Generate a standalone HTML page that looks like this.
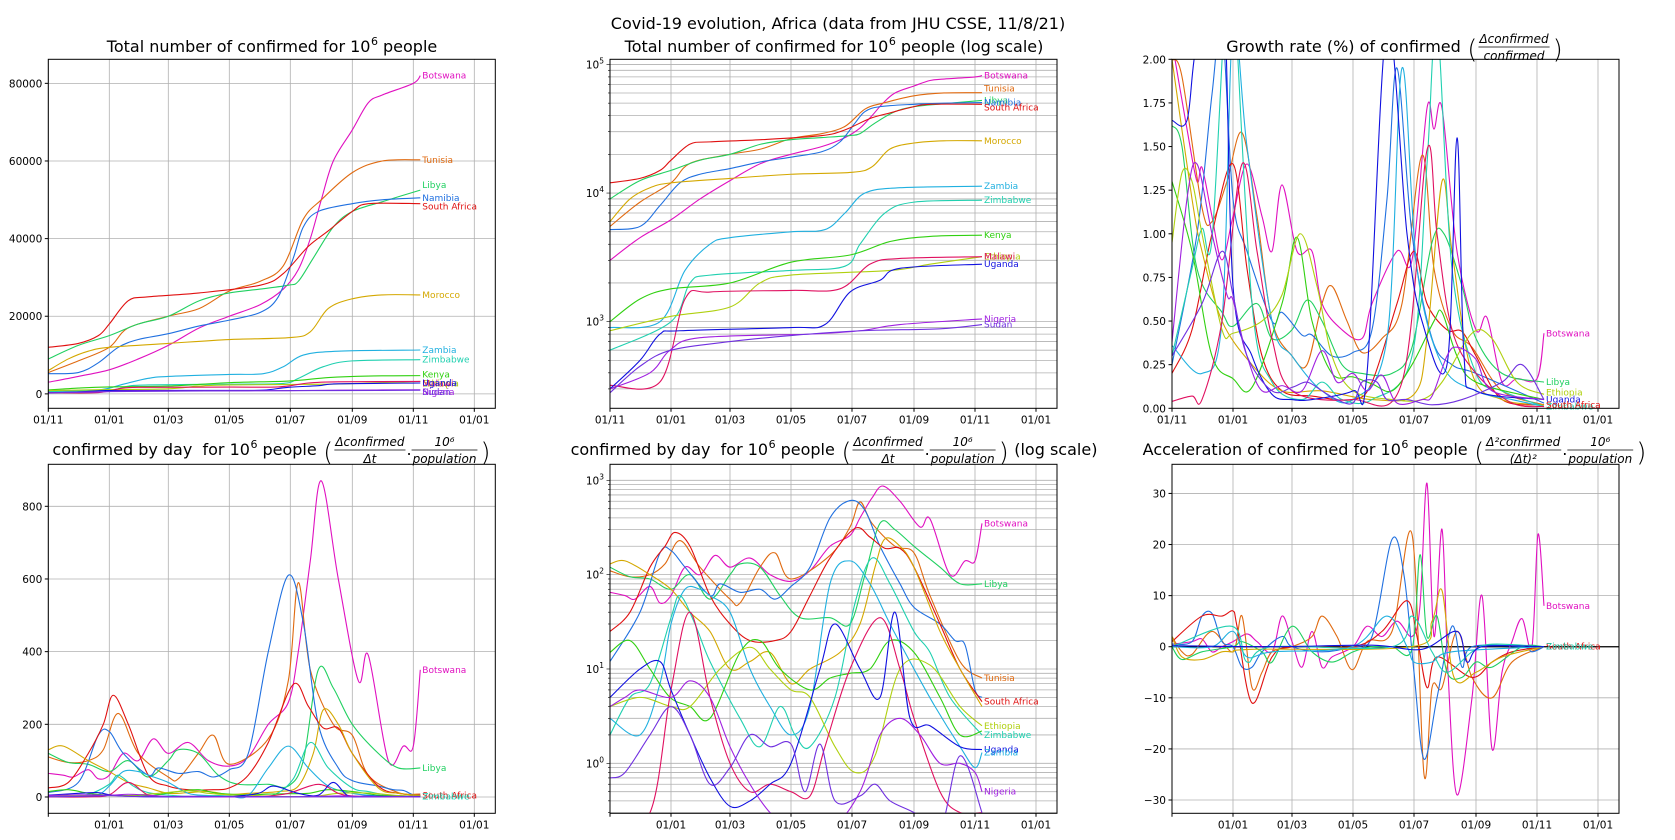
<!DOCTYPE html>
<html><head><meta charset="utf-8">
<style>
html,body{margin:0;padding:0;background:#fff;}
svg{display:block;font-family:"DejaVu Sans","Liberation Sans",sans-serif;}
text{white-space:pre;}
</style></head>
<body>
<svg id="fig" width="1675" height="840" viewBox="0 0 1675 840" xmlns="http://www.w3.org/2000/svg">
<rect x="0" y="0" width="1675" height="840" fill="#fff"/>
<text x="838" y="29" font-size="16" text-anchor="middle">Covid-19 evolution, Africa (data from JHU CSSE, 11/8/21)</text>
</svg>
<script>
// ---------- data (day 0 = 01/11/2020) ----------
const countries = ["Botswana","Tunisia","Libya","Namibia","South Africa","Morocco","Zambia","Zimbabwe","Kenya","Ethiopia","Malawi","Uganda","Nigeria","Sudan"];
const colors = {"Botswana":"#e010c0","Tunisia":"#e06a10","Libya":"#20d060","Namibia":"#2070e0","South Africa":"#e01010","Morocco":"#d4a800","Zambia":"#20b0e0","Zimbabwe":"#20d0b0","Kenya":"#30d010","Ethiopia":"#b0d010","Malawi":"#e01060","Uganda":"#1010e0","Nigeria":"#a020e0","Sudan":"#7030e0"};
const xTickDays = [0,61,120,181,242,304,365,426];
const xTickLabels = ["01/11","01/01","01/03","01/05","01/07","01/09","01/11","01/01"];

// total confirmed per 1e6 (thousands)
const totalBotswana = [[0,3],[30,4.5],[61,6.2],[90,9],[120,12.5],[151,17],[181,20],[212,23],[235,27],[250,32],[262,40],[273,50],[285,60],[304,68],[320,75],[334,77],[365,80],[372,82]];
const totalTunisia = [[0,5.5],[30,8.5],[61,12],[80,17],[120,20],[151,22],[181,26.5],[212,29],[235,33],[255,45],[273,50],[304,57],[334,60],[372,60.3]];
const totalLibya = [[0,9],[30,12.5],[61,15],[90,18],[120,20],[151,24],[181,26],[212,27],[240,28],[250,29],[265,35],[285,43],[304,47],[334,49.5],[372,52.5]];
const totalNamibia = [[0,5.2],[30,5.5],[50,8],[70,12],[90,14],[120,15.5],[151,17.5],[181,19],[212,21],[230,25],[245,35],[255,43],[270,47],[304,49],[334,50],[372,50.5]];
const totalSouthAfrica = [[0,12],[30,13],[50,15],[61,18],[80,24],[100,25],[151,26],[212,28],[235,31],[260,38],[280,42],[304,47],[320,49],[372,49]];
const totalMorocco = [[0,6],[20,9],[40,11],[61,12],[120,13],[181,14],[242,14.5],[262,16],[280,22],[304,24.5],[334,25.5],[372,25.5]];
const totalZambia = [[0,0.9],[50,1],[75,2.5],[100,4],[120,4.5],[181,5],[215,5.2],[235,7],[255,10],[290,11],[372,11.3]];
const totalZimbabwe = [[0,0.6],[61,1],[80,2],[100,2.3],[181,2.5],[235,2.7],[250,4],[275,7],[304,8.5],[372,8.8]];
const totalKenya = [[0,1],[30,1.5],[61,1.8],[120,2],[181,2.9],[240,3.3],[280,4.2],[320,4.6],[372,4.7]];
const totalEthiopia = [[0,0.85],[61,1.1],[120,1.3],[150,2],[180,2.3],[280,2.5],[320,2.8],[372,3.2]];
const totalMalawi = [[0,0.32],[50,0.34],[75,1.5],[100,1.7],[181,1.75],[230,1.8],[260,2.8],[290,3.1],[372,3.2]];
const totalUganda = [[0,0.3],[30,0.5],[50,0.8],[70,0.85],[181,0.9],[215,0.95],[240,1.7],[270,2.1],[290,2.6],[372,2.8]];
const totalNigeria = [[0,0.3],[40,0.4],[60,0.6],[90,0.75],[200,0.8],[250,0.85],[290,0.95],[372,1.05]];
const totalSudan = [[0,0.28],[30,0.45],[61,0.6],[120,0.7],[181,0.78],[250,0.85],[330,0.88],[372,0.95]];

// daily confirmed per 1e6
const dailyBotswana = [[0,65],[15,60],[25,55],[40,75],[50,50],[61,60],[75,120],[90,100],[105,160],[120,120],[140,150],[160,100],[181,85],[200,110],[220,200],[240,260],[250,400],[262,650],[273,870],[290,600],[310,320],[320,390],[340,100],[355,140],[365,140],[372,350]];
const dailyTunisia = [[0,110],[20,95],[40,100],[55,130],[70,230],[90,120],[120,55],[130,50],[150,120],[165,170],[181,90],[220,160],[240,320],[250,590],[262,350],[285,200],[304,170],[320,60],[350,12],[372,8]];
const dailyLibya = [[0,120],[20,95],[40,90],[61,70],[80,100],[100,55],[120,100],[130,130],[150,120],[170,60],[190,35],[220,35],[240,30],[255,100],[270,350],[285,300],[304,200],[330,120],[350,80],[372,80]];
const dailyNamibia = [[0,12],[30,40],[50,170],[61,180],[75,120],[100,60],[110,80],[130,65],[150,70],[165,55],[181,75],[200,120],[220,400],[240,610],[255,480],[270,200],[290,80],[304,45],[330,30],[345,20],[355,18],[365,6],[372,5]];
const dailySouthAfrica = [[0,25],[20,40],[40,120],[55,200],[65,280],[80,200],[100,60],[120,30],[140,20],[165,20],[181,25],[200,60],[220,150],[245,310],[260,250],[275,190],[290,190],[304,120],[330,30],[350,10],[372,4.5]];
const dailyMorocco = [[0,130],[15,140],[40,100],[61,70],[80,40],[100,25],[120,10],[140,12],[160,15],[181,7],[200,10],[230,15],[250,30],[265,120],[275,240],[290,200],[304,120],[330,25],[350,10],[372,4]];
const dailyZambia = [[0,3],[30,2],[50,7],[61,30],[75,70],[90,70],[100,60],[120,40],[140,10],[160,4],[181,2],[200,4],[220,80],[240,140],[260,80],[280,30],[304,10],[325,4],[350,1.5],[365,0.9],[372,1.3]];
const dailyZimbabwe = [[0,2],[20,5],[40,7],[61,35],[70,60],[85,30],[100,12],[130,3],[150,1.5],[170,4],[185,2],[200,1.5],[225,5],[245,50],[262,150],[280,80],[304,25],[320,15],[340,5],[372,2]];
const dailyKenya = [[0,15],[20,20],[40,10],[60,5],[80,4],[100,3],[130,15],[150,20],[170,10],[200,6],[220,8],[240,9],[260,10],[280,20],[304,15],[330,5],[350,2],[372,2.2]];
const dailyEthiopia = [[0,4],[30,5],[61,4],[80,4],[110,10],[140,17],[160,10],[181,6],[200,5],[225,1.5],[245,0.8],[265,1.2],[290,10],[320,11],[350,4],[372,2.5]];
const dailyMalawi = [[0,0.2],[40,0.3],[61,6],[80,40],[100,5],[120,1],[140,0.5],[160,0.6],[181,0.5],[200,0.45],[215,1.5],[240,10],[270,35],[290,10],[304,3],[330,0.5],[350,0.3],[372,0.3]];
const dailyUganda = [[0,5],[30,10],[50,12],[61,6],[80,2],[100,0.7],[120,0.35],[140,0.4],[160,0.6],[181,1],[210,10],[225,30],[250,10],[270,5],[285,40],[300,3],[320,2.5],[350,1.5],[372,1.4]];
const dailyNigeria = [[0,4],[15,5],[30,6],[61,5],[80,7.5],[100,5],[120,1.5],[140,0.6],[160,0.3],[181,0.2],[220,0.2],[250,0.5],[270,2],[290,3],[310,2],[330,1],[350,1],[365,0.8],[372,0.5]];
const dailySudan = [[0,0.7],[15,0.8],[40,2],[61,4],[80,2],[100,0.6],[120,0.9],[140,2],[160,1.5],[181,1.6],[195,0.5],[210,1.6],[225,0.4],[250,0.45],[265,0.6],[280,0.4],[304,0.3],[330,0.2],[350,1.2],[372,0.3]];

// growth rate (%)
const growthBotswana = [[0,2.1],[15,1.6],[25,1.3],[30,1.38],[40,1.1],[50,0.85],[61,1.1],[75,1.4],[90,1.1],[100,0.9],[110,1.28],[125,0.9],[140,0.9],[150,0.6],[170,0.45],[190,0.4],[200,0.6],[225,0.9],[240,0.85],[255,1.72],[262,1.6],[270,1.72],[285,0.9],[304,0.45],[315,0.52],[330,0.15],[345,0.17],[365,0.17],[372,0.43]];
const growthTunisia = [[0,2],[10,1.9],[30,1.15],[40,1.07],[55,1.3],[70,1.58],[85,1.1],[100,0.5],[120,0.3],[135,0.25],[150,0.6],[160,0.7],[175,0.5],[190,0.32],[210,0.4],[230,0.6],[250,1.45],[262,0.8],[280,0.45],[300,0.35],[330,0.1],[372,0.02]];
const growthLibya = [[0,1.62],[10,1.5],[25,0.8],[50,0.55],[61,0.47],[85,0.6],[100,0.4],[120,0.45],[135,0.62],[150,0.5],[170,0.25],[190,0.2],[220,0.2],[240,0.35],[260,0.95],[272,1.0],[290,0.7],[304,0.4],[330,0.2],[372,0.15]];
const growthNamibia = [[0,0.25],[25,1.0],[40,1.8],[50,2.2],[61,1.2],[75,0.9],[100,0.5],[110,0.55],[130,0.42],[140,0.42],[160,0.3],[181,0.32],[200,0.45],[215,1.2],[225,1.95],[240,1.0],[260,0.4],[280,0.25],[304,0.2],[372,0.03]];
const growthSouthAfrica = [[0,0.2],[20,0.45],[40,1.0],[61,1.4],[75,0.8],[90,0.3],[110,0.1],[140,0.07],[181,0.05],[200,0.15],[225,0.6],[242,0.9],[255,0.6],[275,0.45],[290,0.44],[304,0.3],[330,0.05],[372,0.02]];
const growthMorocco = [[0,2],[20,1.2],[30,0.9],[50,0.5],[80,0.25],[110,0.1],[150,0.1],[200,0.05],[242,0.08],[255,0.4],[270,1.3],[280,0.9],[300,0.2],[330,0.05],[372,0.02]];
const growthZambia = [[0,0.36],[30,0.2],[50,0.5],[61,2.2],[75,1.5],[100,0.5],[120,0.3],[150,0.1],[181,0.05],[215,0.4],[230,1.95],[245,0.8],[270,0.25],[304,0.1],[340,0.05],[372,0.01]];
const growthZimbabwe = [[0,0.3],[20,0.8],[30,1.03],[40,0.97],[55,2.5],[61,2.5],[80,0.6],[100,0.15],[130,0.05],[150,0.15],[170,0.05],[200,0.05],[240,0.3],[255,1.4],[265,2.2],[280,0.8],[304,0.2],[330,0.1],[372,0.01]];
const growthKenya = [[0,1.3],[20,0.9],[40,0.3],[61,0.17],[80,0.12],[110,0.6],[125,0.98],[140,0.5],[160,0.2],[181,0.18],[200,0.14],[220,0.1],[240,0.25],[262,0.5],[270,0.55],[285,0.3],[304,0.15],[372,0.05]];
const growthEthiopia = [[0,0.95],[10,1.35],[20,1.3],[30,1.0],[50,0.45],[61,0.43],[90,0.5],[110,0.65],[128,1.0],[145,0.7],[160,0.3],[181,0.1],[220,0.05],[250,0.05],[270,0.15],[300,0.43],[320,0.4],[345,0.15],[372,0.08]];
const growthMalawi = [[0,0.04],[20,0.07],[30,0.05],[50,0.5],[70,1.4],[85,0.9],[100,0.4],[120,0.1],[180,0.05],[230,0.15],[255,1.48],[265,1.0],[280,0.45],[304,0.2],[340,0.03],[372,0.01]];
const growthUganda = [[0,1.65],[15,1.65],[25,2.1],[50,2.5],[61,0.7],[80,0.3],[100,0.08],[120,0.05],[140,0.05],[181,0.1],[195,0.2],[215,2.2],[235,1.0],[250,0.5],[275,0.25],[285,1.55],[292,0.3],[304,0.1],[372,0.05]];
const growthNigeria = [[0,0.38],[15,1.2],[25,1.4],[40,1.0],[55,0.65],[61,0.62],[75,0.3],[90,0.1],[110,0.13],[130,0.1],[150,0.33],[165,0.15],[181,0.2],[195,0.1],[210,0.19],[225,0.03],[250,0.05],[260,0.07],[275,0.3],[285,0.35],[304,0.28],[320,0.1],[372,0.05]];
const growthSudan = [[0,0.3],[30,0.6],[50,0.9],[61,0.65],[75,0.3],[100,0.1],[120,0.12],[135,0.15],[150,0.1],[165,0.05],[181,0.03],[190,0.15],[205,0.15],[215,0.05],[235,0.05],[260,0.02],[290,0.05],[330,0.15],[350,0.25],[372,0.05]];

// acceleration
const accelBotswana = [[0,0.5],[20,1],[30,1.5],[40,-1],[50,0],[61,1],[75,2.5],[85,1],[100,-1],[110,6],[120,1],[130,-4],[140,3],[150,-4],[160,-2],[181,0],[195,4],[210,2],[225,5],[240,2],[248,8],[255,32],[262,2],[270,23],[276,-5],[285,-29],[300,-10],[310,10],[320,-20],[330,-5],[340,1],[350,5.5],[360,0],[366,22],[372,8]];
const accelTunisia = [[0,2],[10,-1],[20,-1.5],[40,3],[61,-1],[70,6],[80,-8],[90,-5],[100,-1],[120,0],[140,2],[150,6],[165,2],[180,-4.5],[195,1],[220,3],[240,22],[252,-25],[260,-8],[270,-8],[285,3],[300,-6],[320,-10],[340,-3],[372,0]];
const accelNamibia = [[0,0.5],[20,1],[30,6],[40,6.5],[50,1],[61,0],[70,-4],[80,-4],[90,-1],[110,2],[120,0],[150,-1],[180,0],[200,2],[220,21],[232,14],[242,-5],[252,-22],[265,-10],[280,4],[290,-4],[300,0],[350,0],[360,-1],[372,0]];
const accelSouthAfrica = [[0,1],[30,6],[50,6],[61,7],[65,4],[80,-11],[100,-2],[120,0],[181,0],[210,3],[235,9],[245,2],[255,-8],[265,-2],[300,-6],[320,-3],[340,-1],[372,0]];
const accelLibya = [[0,0],[10,-2.5],[30,-1],[61,0],[70,1],[90,-1],[100,-3],[120,4],[140,-1],[160,-3],[181,-1],[200,0],[220,0],[240,-0.5],[248,18],[255,2],[265,6],[275,-5],[290,-6],[304,-3],[320,-4],[350,0],[372,0]];
const accelMorocco = [[0,2],[10,-2],[30,-2.5],[50,-1],[61,-1],[80,-0.5],[240,0],[260,5],[270,11],[282,-6],[304,-5],[330,-2],[372,0]];
const accelZambia = [[0,0],[40,0],[61,3],[75,-2],[100,-1],[180,0],[215,6],[235,0],[242,-3],[260,-3],[280,-1],[372,0]];
const accelZimbabwe = [[0,0],[60,4],[75,-3],[100,0],[220,0],[240,6],[260,-1],[275,-5],[300,-1],[320,0.5],[372,0]];
const accelUganda = [[0,0.2],[100,0],[200,0.3],[250,-0.5],[285,3],[295,-3],[310,0],[372,0]];

const totals = {"Botswana":totalBotswana,"Tunisia":totalTunisia,"Libya":totalLibya,"Namibia":totalNamibia,"South Africa":totalSouthAfrica,"Morocco":totalMorocco,"Zambia":totalZambia,"Zimbabwe":totalZimbabwe,"Kenya":totalKenya,"Ethiopia":totalEthiopia,"Malawi":totalMalawi,"Uganda":totalUganda,"Nigeria":totalNigeria,"Sudan":totalSudan};
const daily = {"Botswana":dailyBotswana,"Tunisia":dailyTunisia,"Libya":dailyLibya,"Namibia":dailyNamibia,"South Africa":dailySouthAfrica,"Morocco":dailyMorocco,"Zambia":dailyZambia,"Zimbabwe":dailyZimbabwe,"Kenya":dailyKenya,"Ethiopia":dailyEthiopia,"Malawi":dailyMalawi,"Uganda":dailyUganda,"Nigeria":dailyNigeria,"Sudan":dailySudan};
const growth = {"Botswana":growthBotswana,"Tunisia":growthTunisia,"Libya":growthLibya,"Namibia":growthNamibia,"South Africa":growthSouthAfrica,"Morocco":growthMorocco,"Zambia":growthZambia,"Zimbabwe":growthZimbabwe,"Kenya":growthKenya,"Ethiopia":growthEthiopia,"Malawi":growthMalawi,"Uganda":growthUganda,"Nigeria":growthNigeria,"Sudan":growthSudan};
const accel = {"Botswana":accelBotswana,"Tunisia":accelTunisia,"Namibia":accelNamibia,"South Africa":accelSouthAfrica,"Libya":accelLibya,"Morocco":accelMorocco,"Zambia":accelZambia,"Zimbabwe":accelZimbabwe,"Uganda":accelUganda};

const NS = "http://www.w3.org/2000/svg";
const svg = document.getElementById('fig');
function mk(tag, attrs, parent){ const e=document.createElementNS(NS,tag); for(const k in attrs) e.setAttribute(k,attrs[k]); (parent||svg).appendChild(e); return e; }

function smoothPath(pts){
  if(pts.length<2) return '';
  let d='M'+pts[0][0].toFixed(2)+','+pts[0][1].toFixed(2);
  for(let i=0;i<pts.length-1;i++){
    const p0=pts[i-1]||pts[i], p1=pts[i], p2=pts[i+1], p3=pts[i+2]||p2;
    const c1=[p1[0]+(p2[0]-p0[0])/6, p1[1]+(p2[1]-p0[1])/6];
    const c2=[p2[0]-(p3[0]-p1[0])/6, p2[1]-(p3[1]-p1[1])/6];
    d+='C'+c1[0].toFixed(2)+','+c1[1].toFixed(2)+' '+c2[0].toFixed(2)+','+c2[1].toFixed(2)+' '+p2[0].toFixed(2)+','+p2[1].toFixed(2);
  }
  return d;
}

let clipId=0;
function panel(o){
  const g=mk('g',{});
  
  
  const L=o.left,R=o.left+447,T=o.top,B=o.top+349;
  const sc=o.scale||1;
  const x0=o.xmin;
  const X=d=>L+(d-x0)*1.0;
  let Y;
  if(o.log){ Y=v=>{const lv=Math.log10(Math.max(v,1e-6)); return B-(lv-o.ymin)/(o.ymax-o.ymin)*(B-T);} }
  else { Y=v=>B-(v-o.ymin)/(o.ymax-o.ymin)*(B-T); }
  const cid='clip'+(clipId++);
  const cp=mk('clipPath',{id:cid},g); mk('rect',{x:L,y:T,width:R-L,height:B-T},cp);
  const grid=mk('g',{stroke:'#b0b0b0','stroke-width':0.8},g);
  
  
  xTickDays.forEach((d,i)=>{
    const x=X(d); if(x<L-0.5||x>R+0.5) return;
    mk('line',{x1:x,x2:x,y1:T,y2:B},grid);
    mk('line',{x1:x,x2:x,y1:B,y2:B+3.5,stroke:'#000'},g);
    if(o.skipFirstX && i===0) return;
    const t=mk('text',{x:x,y:B+15,'font-size':10.5,'text-anchor':'middle'},g); t.textContent=xTickLabels[i];
    
    
  });
  if(o.log){
    for(let e=Math.floor(o.ymin); e<=Math.ceil(o.ymax); e++){
      for(let m=1;m<10;m++){
        const lv=e+Math.log10(m); if(lv<o.ymin||lv>o.ymax) continue;
        const y=B-(lv-o.ymin)/(o.ymax-o.ymin)*(B-T);
        mk('line',{x1:L,x2:R,y1:y,y2:y},grid);
        mk('line',{x1:L-(m===1?3.5:2),x2:L,y1:y,y2:y,stroke:'#000','stroke-width':0.6},g);
        if(m===1){
          const t=mk('text',{x:L-6,y:y+4,'font-size':10.5,'text-anchor':'end'},g);
          
          
          t.appendChild(document.createTextNode('10'));
          const s=mk('tspan',{dy:-5,'font-size':7.5},t); s.textContent=String(e);
        }
      }
    }
  } else {
    o.yTicks.forEach((v,i)=>{
      const y=Y(v);
      if(o.hgrid!==false) mk('line',{x1:L,x2:R,y1:y,y2:y},grid);
      mk('line',{x1:L-3.5,x2:L,y1:y,y2:y,stroke:'#000'},g);
      const t=mk('text',{x:L-6,y:y+4,'font-size':10.5,'text-anchor':'end'},g); t.textContent=o.yTickLabels[i];
      
      
    });
  }
  const sg=mk('g',{'clip-path':'url(#'+cid+')',fill:'none','stroke-width':1.1},g);
  if(o.zeroLine) mk('line',{x1:L,x2:R,y1:Y(0),y2:Y(0),stroke:'#000','stroke-width':1.3},sg);
  Object.keys(o.data).forEach(c=>{
    const pts=o.data[c].map(p=>[X(p[0]),Y(p[1]*sc)]);
    const p=mk('path',{d:smoothPath(pts),stroke:colors[c]},sg);
    
    
  });
  (o.labels||[]).forEach(c=>{
    const arr=o.data[c]; const last=arr[arr.length-1];
    const t=mk('text',{x:X(last[0])+2,y:Y(last[1]*sc)+(o.labelDy&&o.labelDy[c]||0)+3,'font-size':9,fill:colors[c]},g);
    t.textContent=c;
    
    
  });
  mk('rect',{x:L,y:T,width:R-L,height:B-T,fill:'none',stroke:'#000','stroke-width':1},g);
  return g;
}

function title(cx, base, pieces, name){
  const g=mk('g',{});
  
  
  let x=0;
  pieces.forEach(p=>{
    if(p.t!==undefined){
      const lead=p.t.startsWith(' ')?4.5:0;
      const t=mk('text',{x:x+lead,y:base,'font-size':16},g); t.textContent=p.t.trim();
      const trail=p.t.endsWith(' ')&&p.t.trim().length?4.5:0;
      x+=lead+t.getComputedTextLength()+trail;
    }
    else if(p.sup!==undefined){ const t=mk('text',{x:x+0.5,y:base-7,'font-size':11},g); t.textContent=p.sup; x+=t.getComputedTextLength()+1; }
    else if(p.paren!==undefined){ const t=mk('text',{x:x+2,y:base+6,'font-size':26,'font-weight':'100'},g); t.textContent=p.paren; x+=t.getComputedTextLength()+3; }
    else if(p.frac){
      const n=mk('text',{x:0,y:base-9,'font-size':12,'font-style':'italic','text-anchor':'middle'},g); n.textContent=p.frac[0];
      const d=mk('text',{x:0,y:base+8,'font-size':12,'font-style':'italic','text-anchor':'middle'},g); d.textContent=p.frac[1];
      const w=Math.max(n.getComputedTextLength(),d.getComputedTextLength())+2;
      n.setAttribute('x',x+w/2); d.setAttribute('x',x+w/2);
      mk('line',{x1:x,x2:x+w,y1:base-5,y2:base-5,stroke:'#000','stroke-width':0.8},g);
      x+=w+1;
    }
  });
  g.setAttribute('transform','translate('+(cx-x/2)+',0)');
}

const L1=48.3,L2=610,L3=1172; const T1=59.3,T2=464.3;
panel({name:'panel-total-linear',left:L1,top:T1,xmin:0,scale:1000,ymin:-3716,ymax:86194,yTicks:[0,20000,40000,60000,80000],yTickLabels:['0','20000','40000','60000','80000'],data:totals,labels:countries,labelDy:{"Libya":-5,"South Africa":3,"Kenya":-1,"Ethiopia":2,"Malawi":2,"Nigeria":2,"Sudan":2}});
panel({name:'panel-total-log',left:L2,top:T1,xmin:0,scale:1000,log:true,ymin:Math.log10(212),ymax:5.04,data:totals,labels:countries,labelDy:{"Tunisia":-4,"South Africa":3}});
panel({name:'panel-growth-rate',left:L3,top:T1,xmin:0,ymin:0,ymax:2,hgrid:false,yTicks:[0,0.25,0.5,0.75,1,1.25,1.5,1.75,2],yTickLabels:['0.00','0.25','0.50','0.75','1.00','1.25','1.50','1.75','2.00'],data:growth,labels:["Botswana","Libya","Ethiopia","Uganda","Zimbabwe","South Africa"],labelDy:{"Ethiopia":-2}});
panel({name:'panel-daily-linear',left:L1,top:T2,xmin:0,skipFirstX:true,ymin:-44.9,ymax:915.6,yTicks:[0,200,400,600,800],yTickLabels:['0','200','400','600','800'],data:daily,labels:["Botswana","Libya","South Africa","Zimbabwe"]});
panel({name:'panel-daily-log',left:L2,top:T2,xmin:0,skipFirstX:true,log:true,ymin:-0.53,ymax:3.17,data:daily,labels:["Botswana","Libya","Tunisia","South Africa","Ethiopia","Zimbabwe","Uganda","Zambia","Nigeria"]});
panel({name:'panel-acceleration',left:L3,top:T2,xmin:0,skipFirstX:true,ymin:-32.6,ymax:35.7,zeroLine:true,yTicks:[-30,-20,-10,0,10,20,30],yTickLabels:['\u221230','\u221220','\u221210','0','10','20','30'],data:accel,labels:["Botswana","South Africa","Zimbabwe"]});

title(272,52,[{t:'Total number of confirmed for 10'},{sup:'6'},{t:' people'}],'title-total');
title(834,52,[{t:'Total number of confirmed for 10'},{sup:'6'},{t:' people (log scale)'}],'title-total-log');
title(1395,52,[{t:'Growth rate (%) of confirmed '},{paren:'('},{frac:['\u0394confirmed','confirmed']},{paren:')'}],'title-growth');
title(272,455,[{t:'confirmed by day  for 10'},{sup:'6'},{t:' people '},{paren:'('},{frac:['\u0394confirmed','\u0394t']},{t:'.'},{frac:['10\u2076','population']},{paren:')'}],'title-daily');
title(834,455,[{t:'confirmed by day  for 10'},{sup:'6'},{t:' people '},{paren:'('},{frac:['\u0394confirmed','\u0394t']},{t:'.'},{frac:['10\u2076','population']},{paren:')'},{t:' (log scale)'}],'title-daily-log');
title(1395,455,[{t:'Acceleration of confirmed for 10'},{sup:'6'},{t:' people '},{paren:'('},{frac:['\u0394\u00b2confirmed','(\u0394t)\u00b2']},{t:'.'},{frac:['10\u2076','population']},{paren:')'}],'title-acceleration');
</script>
</body></html>
